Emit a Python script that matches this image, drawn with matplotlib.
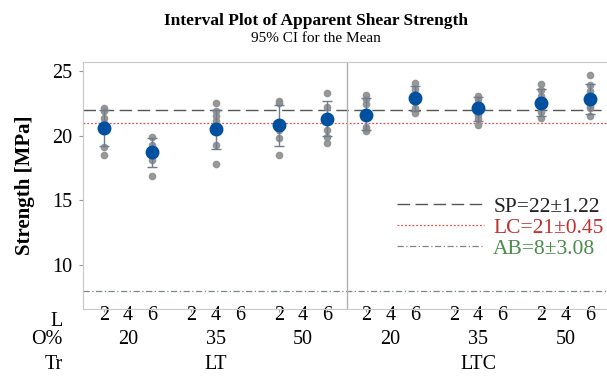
import numpy as np
import matplotlib
matplotlib.use("Agg")
import matplotlib.pyplot as plt
from matplotlib.lines import Line2D

plt.rcParams["font.family"] = ["Liberation Serif", "DejaVu Serif"]

# Groups: treatment, overlap %, layers (only these combinations were tested)
treatments = ["LT"] * 5 + ["LTC"] * 5
overlaps = [20, 20, 35, 50, 50, 20, 20, 35, 50, 50]
layers = [2, 6, 4, 2, 6, 2, 6, 4, 2, 6]

# Individual specimen strengths [MPa]
samples = [
    [22.1, 21.9, 21.4, 21.0, 19.1, 18.5],
    [19.9, 19.3, 18.8, 18.4, 18.1, 16.9],
    [22.5, 21.9, 21.5, 21.1, 19.3, 17.8],
    [22.7, 22.5, 21.0, 20.4, 19.8, 18.5],
    [23.3, 22.2, 21.5, 20.4, 19.9, 19.4],
    [23.15, 22.85, 22.45, 20.7, 20.5, 20.35],
    [24.1, 23.6, 23.0, 22.6, 22.1, 21.75],
    [23.1, 22.8, 22.5, 21.6, 21.3, 20.8],
    [24.0, 23.5, 23.1, 22.2, 21.8, 21.4],
    [24.65, 23.95, 23.45, 22.3, 22.1, 21.55],
]
means = [20.6, 18.7, 20.5, 20.8, 21.3, 21.6, 22.9, 22.1, 22.5, 22.8]
ci_low = [19.2, 17.6, 19.0, 19.2, 20.0, 20.4, 21.9, 21.1, 21.5, 21.7]
ci_high = [22.0, 19.8, 22.0, 22.4, 22.7, 22.9, 23.8, 23.0, 23.6, 24.0]

# Reference values for other adhesives/processes
ref_names = ["SP", "LC", "AB"]
ref_means = [22, 21, 8]
ref_sd = [1.22, 0.45, 3.08]

all_treat = ["LT", "LTC"]
all_overlap = [20, 35, 50]
all_layers = [2, 4, 6]


def xpos(tr, ov, ly):
    g = all_treat.index(tr) * 3 + all_overlap.index(ov)
    return g * 3.6 + all_layers.index(ly)


fig = plt.figure(figsize=(6.07, 3.82), dpi=100)
ax = fig.add_axes([0.137, 0.191, 0.863, 0.647])

# reference lines
ax.axhline(ref_means[0], color="#555555", lw=1.0, ls=(0, (9, 4)), zorder=1)
ax.axhline(ref_means[1], color="#d9534f", lw=0.9, ls=(0, (1.5, 1.5)), zorder=1)
ax.axhline(ref_means[2], color="#7a8a7a", lw=0.9, ls=(0, (5, 2, 1, 2)), zorder=1)

xs = [xpos(t, o, l) for t, o, l in zip(treatments, overlaps, layers)]
for x, vals, m, lo, hi in zip(xs, samples, means, ci_low, ci_high):
    ax.plot([x] * len(vals), vals, "o", color="#8e8e8e", ms=4.5, alpha=0.9, zorder=2)
    ax.errorbar(x, m, yerr=[[m - lo], [hi - m]], fmt="none",
                ecolor="#6f7c8e", elinewidth=1.0, capsize=3.5, capthick=1.0, zorder=3)
    ax.plot(x, m, "o", color="#0050a0", ms=9, zorder=4)

# panel divider between LT and LTC
ax.axvline(10.0, color="#b0b0b0", lw=1.0, zorder=1)

ax.set_xlim(-0.85, 20.7)
ax.set_ylim(6.6, 25.7)
ax.set_yticks([10, 15, 20, 25])
ax.tick_params(axis="y", labelsize=14.5, length=3, color="#999999", pad=5)

ticks = [xpos(t, o, l) for t in all_treat for o in all_overlap for l in all_layers]
ax.set_xticks(ticks)
ax.set_xticklabels([str(l) for t in all_treat for o in all_overlap for l in all_layers])
ax.tick_params(axis="x", labelsize=14.5, length=2.5, color="#999999", pad=-5)

for s in ["left", "bottom", "top"]:
    ax.spines[s].set_color("#c8c8c8")
ax.spines["right"].set_visible(False)

ax.set_ylabel("Strength [MPa]", fontsize=15, fontweight="bold", labelpad=12)

# grouping rows under the x axis
trans = ax.get_xaxis_transform()
ax.text(-1.7, -0.012, "L", transform=trans, ha="right", va="top", fontsize=14.5)
ax.text(-1.7, -0.085, "O%", transform=trans, ha="right", va="top", fontsize=14.5)
ax.text(-1.7, -0.184, "Tr", transform=trans, ha="right", va="top", fontsize=14.5)
for t in all_treat:
    for o in all_overlap:
        ax.text(xpos(t, o, 4), -0.085, str(o), transform=trans,
                ha="center", va="top", fontsize=14.5)
    ax.text(xpos(t, 35, 4), -0.184, t, transform=trans,
            ha="center", va="top", fontsize=14.5)

# reference legend
handles = [
    Line2D([], [], color="#555555", lw=1.0, ls=(0, (9, 4))),
    Line2D([], [], color="#d9534f", lw=0.9, ls=(0, (1.5, 1.5))),
    Line2D([], [], color="#7a8a7a", lw=0.9, ls=(0, (5, 2, 1, 2))),
]
labels = [f"{n}={m}\u00b1{s}" for n, m, s in zip(ref_names, ref_means, ref_sd)]
ax.legend(handles, labels, loc="upper right", bbox_to_anchor=(1.01, 0.49),
          frameon=False, fontsize=15.5, handlelength=4.0, handletextpad=0.45,
          labelspacing=0.05, borderaxespad=0,
          labelcolor=["#222222", "#c0302e", "#4a8a4a"])

fig.text(0.52, 0.965, "Interval Plot of Apparent Shear Strength", ha="center",
         va="top", fontsize=12.5, fontweight="bold")
fig.text(0.52, 0.915, "95% CI for the Mean", ha="center", va="top", fontsize=11)

fig.savefig("out.png", dpi=100)
